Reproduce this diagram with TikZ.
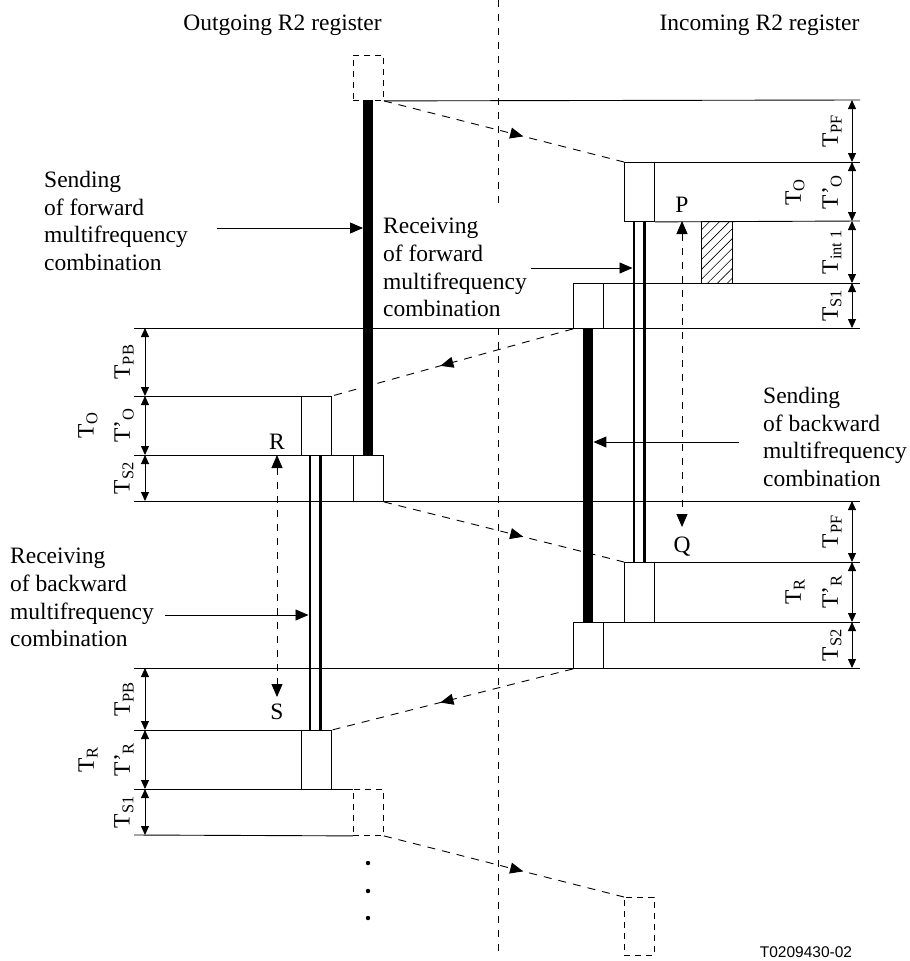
\documentclass[tikz,border=0pt]{standalone}
\usepackage{fontspec}
\setmainfont{Liberation Serif}
\newfontfamily\codefont{Liberation Sans}
\usetikzlibrary{arrows.meta,decorations.markings,patterns.meta}
\tikzset{
  ln/.style={line width=0.9pt},
  box/.style={draw, line width=0.9pt, inner sep=0pt, minimum width=30pt, anchor=north west},
  dbox/.style={box, dash pattern=on 6pt off 5pt},
  sig/.style={line width=0.9pt, dash pattern=on 8pt off 7pt, postaction={decorate},
     decoration={markings, mark=at position #1 with {\arrow{Triangle[length=13pt,width=11pt]}}}},
  cline/.style={line width=0.9pt, dash pattern=on 7pt off 7pt},
  dimarrow/.style={line width=0.9pt, {Triangle[length=9pt,width=8pt]}-{Triangle[length=9pt,width=8pt]}},
  ptr/.style={line width=0.9pt, -{Triangle[length=13pt,width=11pt]}},
  pq/.style={line width=0.9pt, dash pattern=on 7pt off 7pt},
  lbl/.style={rotate=90, inner sep=0pt, font=\fontsize{23.5}{27.7}\selectfont},
  txt/.style={align=left, inner sep=0pt, anchor=north west, font=\fontsize{23.5}{27.7}\selectfont},
  plain/.style={inner sep=0pt, font=\fontsize{23.5}{27.7}\selectfont},
  bar/.style={fill=black, inner sep=0pt, minimum width=10pt, anchor=north west},
  dbar/.style={inner sep=0pt, minimum width=10pt, anchor=north west},
  dline/.style={line width=2.5pt},
}
\begin{document}
\begin{tikzpicture}[x=1pt,y=-1pt]
\useasboundingbox (0,0) rectangle (910,961);

% centre line
\draw[cline] (498,0) -- (498,206);
\draw[cline] (498,328) -- (498,958);

% headers
\node[plain, anchor=base] (hout) at (282.5,30) {Outgoing R2 register};
\node[plain, anchor=base] (hin) at (759.5,30) {Incoming R2 register};

% boxes
\node[dbox, minimum height=45pt] (topd) at (353,55) {};
\node[box, minimum height=59pt] (rbO) at (624,162) {};
\node[box, minimum height=45pt] (rbS1) at (573,283) {};
\node[box, minimum height=59pt] (lbO) at (301,396) {};
\node[box, minimum height=46pt] (lbS2) at (353,455) {};
\node[box, minimum height=60pt] (rbR) at (624,562) {};
\node[box, minimum height=46pt] (rbS2) at (573,622) {};
\node[box, minimum height=59pt] (lbR) at (301,730) {};
\node[dbox, minimum height=46pt] (lbD) at (353,789) {};
\node[dbox, minimum height=58pt] (rbD) at (624,897) {};
\node[box, minimum width=31pt, minimum height=62pt,
      pattern={Lines[angle=45,distance=7pt,line width=0.6pt]}] (hatch) at (701,221) {};

% bars
\node[bar, minimum height=355pt] (fsend) at (363,100) {};
\node[bar, minimum height=294pt] (bsend) at (583,328) {};
\node[dbar, minimum height=341pt] (frecv) at (634,221) {};
\node[dbar, minimum height=275pt] (brecv) at (310,455) {};
\draw[dline] (frecv.north west) -- (frecv.south west);
\draw[dline] (frecv.north east) -- (frecv.south east);
\draw[dline] (brecv.north west) -- (brecv.south west);
\draw[dline] (brecv.north east) -- (brecv.south east);

% horizontal lines
\draw[ln] (topd.south east) -- (860,100);
\draw[ln] (rbO.north east) -- (860,162);
\draw[ln] (rbO.south east) -- (860,221);
\draw[ln] (rbS1.north east) -- (860,283);
\draw[ln] (134,328) -- (860,328);
\draw[ln] (134,396) -- (lbO.north west);
\draw[ln] (134,455) -- (lbS2.north west);
\draw[ln] (134,501) -- (860,501);
\draw[ln] (rbR.north east) -- (860,562);
\draw[ln] (rbS2.north east) -- (860,622);
\draw[ln] (134,668) -- (860,668);
\draw[ln] (134,730) -- (lbR.north west);
\draw[ln] (134,789) -- (lbD.north west);
\draw[ln] (134,835) -- (lbD.south west);

% signal lines
\draw[sig=0.58] (topd.south east) -- (rbO.north west);
\draw[sig=0.55] (rbS1.south west) -- (lbO.north east);
\draw[sig=0.58] (lbS2.south east) -- (rbR.north west);
\draw[sig=0.55] (rbS2.south west) -- (lbR.north east);
\draw[sig=0.58] (lbD.south east) -- (rbD.north west);

% dimension arrows right
\foreach \a/\b in {100/162,162/221,221/283,283/328,501/562,562/622,622/668}
  \draw[dimarrow] (852,\a) -- (852,\b);
% dimension arrows left
\foreach \a/\b in {328/396,396/455,455/501,668/730,730/789,789/835}
  \draw[dimarrow] (145,\a) -- (145,\b);

% right labels
\node[lbl] (rPF1) at (832,131) {T\textsubscript{PF}};
\node[lbl] (rO) at (795,192) {T\textsubscript{O}};
\node[lbl] (rOp) at (832,192) {T'\textsubscript{O}};
\node[lbl] (rint) at (832,252) {T\textsubscript{int 1}};
\node[lbl] (rS1) at (832,305.5) {T\textsubscript{S1}};
\node[lbl] (rPF2) at (832,531.5) {T\textsubscript{PF}};
\node[lbl] (rR) at (795,592) {T\textsubscript{R}};
\node[lbl] (rRp) at (832,592) {T'\textsubscript{R}};
\node[lbl] (rS2) at (832,645) {T\textsubscript{S2}};
% left labels
\node[lbl] (lPB1) at (124,362) {T\textsubscript{PB}};
\node[lbl] (lO) at (88,425.5) {T\textsubscript{O}};
\node[lbl] (lOp) at (124,425.5) {T'\textsubscript{O}};
\node[lbl] (lS2) at (124,478) {T\textsubscript{S2}};
\node[lbl] (lPB2) at (124,699.5) {T\textsubscript{PB}};
\node[lbl] (lR) at (88,759.5) {T\textsubscript{R}};
\node[lbl] (lRp) at (124,759.5) {T'\textsubscript{R}};
\node[lbl] (lS1) at (124,812) {T\textsubscript{S1}};

% P-Q and R-S
\coordinate (pT) at (682,221);
\coordinate (qT) at (682,527);
\coordinate (rT) at (277,455);
\coordinate (sT) at (277,697);
\draw[pq, {Triangle[length=13pt,width=11pt]}-{Triangle[length=13pt,width=11pt]}] (pT) -- (qT);
\draw[pq, {Triangle[length=13pt,width=11pt]}-{Triangle[length=13pt,width=11pt]}] (rT) -- (sT);
\node[plain] (P) at (682,205) {P};
\node[plain] (Q) at (682,547) {Q};
\node[plain] (R) at (277,442) {R};
\node[plain] (S) at (277,712) {S};

% texts
\node[txt] (t1) at (44,171) {Sending\\of forward\\multifrequency\\combination};
\node[txt] (t2) at (383,218) {Receiving\\of forward\\multifrequency\\combination};
\node[txt] (t3) at (763,387) {Sending\\of backward\\multifrequency\\combination};
\node[txt] (t4) at (10,548) {Receiving\\of backward\\multifrequency\\combination};

\coordinate (sf) at (217,228);
\draw[ptr] (sf) -- (sf -| fsend.west);
\coordinate (rf) at (531,268);
\draw[ptr, shorten >=1.5pt] (rf) -- (rf -| frecv.west);
\coordinate (sb) at (739,442);
\draw[ptr] (sb) -- (sb -| bsend.east);
\coordinate (rb) at (165,615);
\draw[ptr, shorten >=1.5pt] (rb) -- (rb -| brecv.west);

% continuation dots
\fill (368,863) circle[radius=2.2pt];
\fill (368,891) circle[radius=2.2pt];
\fill (368,918) circle[radius=2.2pt];

\node[font=\codefont\fontsize{15.5}{18}\selectfont, anchor=base, inner sep=0pt] (fig) at (806,957) {T0209430-02};
\end{tikzpicture}
\end{document}
